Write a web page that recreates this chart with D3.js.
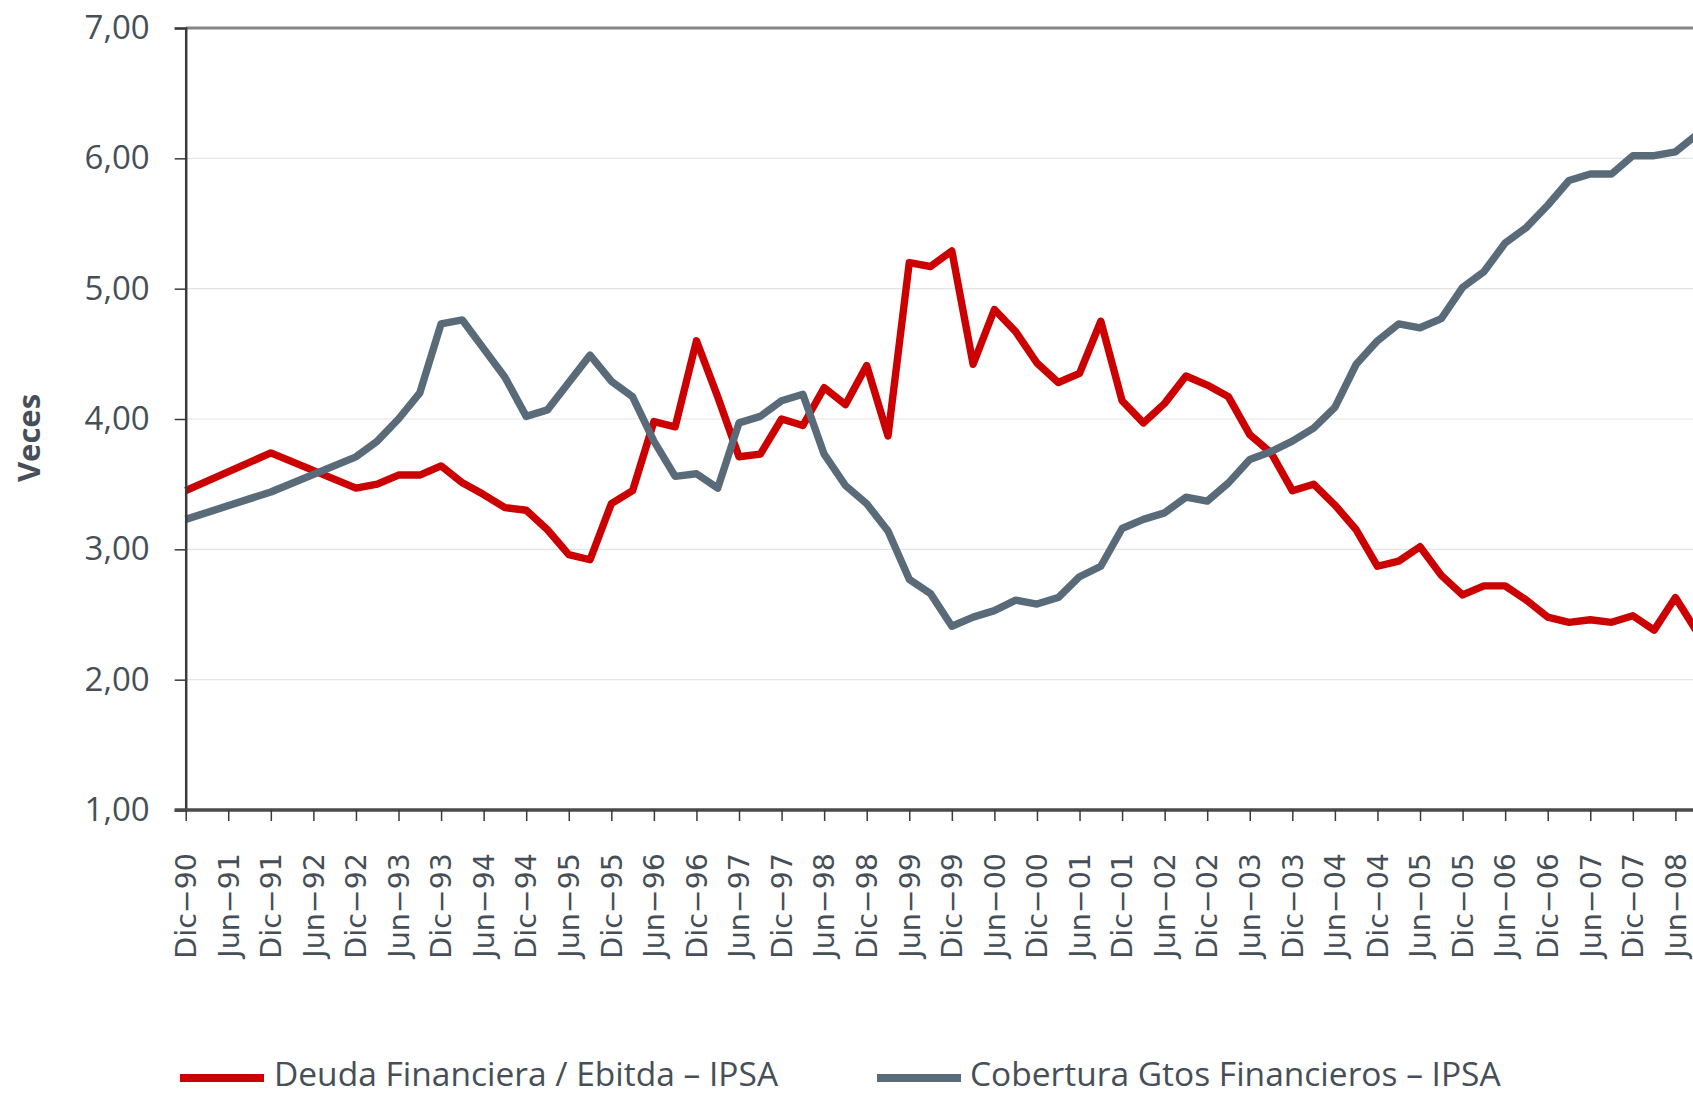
<!DOCTYPE html>
<html>
<head>
<meta charset="utf-8">
<script src="https://cdn.jsdelivr.net/npm/d3@7"></script>
<style>
  html, body { margin: 0; padding: 0; background: #ffffff; overflow: hidden; }
  svg { display: block; }
</style>
</head>
<body>
<svg id="chart" width="1693" height="1095"></svg>
<script>
// ---------- DATA ----------
const periods = [
  "Dic-90", "Dic-91", "Dic-92",
  "Mar-93", "Jun-93", "Sep-93", "Dic-93",
  "Mar-94", "Jun-94", "Sep-94", "Dic-94",
  "Mar-95", "Jun-95", "Sep-95", "Dic-95",
  "Mar-96", "Jun-96", "Sep-96", "Dic-96",
  "Mar-97", "Jun-97", "Sep-97", "Dic-97",
  "Mar-98", "Jun-98", "Sep-98", "Dic-98",
  "Mar-99", "Jun-99", "Sep-99", "Dic-99",
  "Mar-00", "Jun-00", "Sep-00", "Dic-00",
  "Mar-01", "Jun-01", "Sep-01", "Dic-01",
  "Mar-02", "Jun-02", "Sep-02", "Dic-02",
  "Mar-03", "Jun-03", "Sep-03", "Dic-03",
  "Mar-04", "Jun-04", "Sep-04", "Dic-04",
  "Mar-05", "Jun-05", "Sep-05", "Dic-05",
  "Mar-06", "Jun-06", "Sep-06", "Dic-06",
  "Mar-07", "Jun-07", "Sep-07", "Dic-07",
  "Mar-08", "Jun-08", "Sep-08"
];

const deudaEbitda = [
  3.45, 3.74, 3.47,
  3.50, 3.57, 3.57, 3.64,
  3.51, 3.42, 3.32, 3.30,
  3.15, 2.96, 2.92, 3.35,
  3.45, 3.98, 3.94, 4.60,
  4.17, 3.71, 3.73, 4.00,
  3.95, 4.24, 4.11, 4.41,
  3.87, 5.20, 5.17, 5.29,
  4.42, 4.84, 4.67, 4.43,
  4.28, 4.35, 4.75, 4.14,
  3.97, 4.12, 4.33, 4.26,
  4.17, 3.88, 3.74, 3.45,
  3.50, 3.34, 3.15, 2.87,
  2.91, 3.02, 2.80, 2.65,
  2.72, 2.72, 2.61, 2.48,
  2.44, 2.46, 2.44, 2.49,
  2.38, 2.63, 2.37
];

const coberturaGtos = [
  3.23, 3.44, 3.71,
  3.83, 4.00, 4.20, 4.73,
  4.76, 4.54, 4.32, 4.02,
  4.07, 4.28, 4.49, 4.29,
  4.17, 3.83, 3.56, 3.58,
  3.47, 3.97, 4.02, 4.14,
  4.19, 3.73, 3.49, 3.35,
  3.14, 2.77, 2.66, 2.41,
  2.48, 2.53, 2.61, 2.58,
  2.63, 2.79, 2.87, 3.16,
  3.23, 3.28, 3.40, 3.37,
  3.51, 3.69, 3.75, 3.83,
  3.93, 4.09, 4.42, 4.60,
  4.73, 4.70, 4.77, 5.01,
  5.13, 5.35, 5.47, 5.64,
  5.83, 5.88, 5.88, 6.02,
  6.02, 6.05, 6.18
];

const xTickLabels = [
  "Dic-90", "Jun-91", "Dic-91", "Jun-92", "Dic-92", "Jun-93", "Dic-93",
  "Jun-94", "Dic-94", "Jun-95", "Dic-95", "Jun-96", "Dic-96", "Jun-97",
  "Dic-97", "Jun-98", "Dic-98", "Jun-99", "Dic-99", "Jun-00", "Dic-00",
  "Jun-01", "Dic-01", "Jun-02", "Dic-02", "Jun-03", "Dic-03", "Jun-04",
  "Dic-04", "Jun-05", "Dic-05", "Jun-06", "Dic-06", "Jun-07", "Dic-07",
  "Jun-08"
];

const yTickValues = [1, 2, 3, 4, 5, 6, 7];

const seriesNames = ["Deuda Financiera / Ebitda – IPSA", "Cobertura Gtos Financieros – IPSA"];
const seriesColors = ["#cc0000", "#596b78"];
const yAxisTitle = "Veces";

// ---------- HELPERS ----------
const monthNum = { "Mar": 3, "Jun": 6, "Sep": 9, "Dic": 12 };
function monthIndex(label) {
  const [m, yy] = label.split("-");
  const y2 = +yy;
  const year = y2 >= 50 ? 1900 + y2 : 2000 + y2;
  return year * 12 + monthNum[m];
}

// ---------- LAYOUT ----------
const svg = d3.select("#chart");
const W = 1693, H = 1095;
const plotLeft = 185.7, plotTop = 28, plotBottom = 810;
const textColor = "#464f57";
const uiFont = "'Open Sans', Lato, sans-serif";

svg.append("rect").attr("width", W).attr("height", H).attr("fill", "#fff");

const x = d3.scaleLinear()
  .domain([monthIndex("Dic-90"), monthIndex("Jun-08")])
  .range([plotLeft, 1675.4]);

const y = d3.scaleLinear().domain([1, 7]).range([plotBottom, plotTop]);

// gridlines
svg.append("g")
  .selectAll("line")
  .data(yTickValues.filter(v => v > 1 && v < 7))
  .join("line")
  .attr("x1", plotLeft).attr("x2", W + 10)
  .attr("y1", d => y(d)).attr("y2", d => y(d))
  .attr("stroke", "#e4e4e4").attr("stroke-width", 1.2);

// top frame line
svg.append("line")
  .attr("x1", plotLeft).attr("x2", W + 10)
  .attr("y1", y(7)).attr("y2", y(7))
  .attr("stroke", "#858585").attr("stroke-width", 3);

// lines
const seriesData = [deudaEbitda, coberturaGtos];
const lineGen = d3.line()
  .x((d, i) => x(monthIndex(periods[i])))
  .y(d => y(d));

seriesData.forEach((vals, si) => {
  svg.append("path")
    .datum(vals)
    .attr("d", lineGen)
    .attr("fill", "none")
    .attr("stroke", seriesColors[si])
    .attr("stroke-width", 7.4)
    .attr("stroke-linejoin", "round")
    .attr("stroke-linecap", "butt");
});

// y axis
const yAxis = d3.axisLeft(y)
  .tickValues(yTickValues)
  .tickSize(11)
  .tickPadding(25)
  .tickFormat(d => d.toFixed(2).replace(".", ","));

const gy = svg.append("g")
  .attr("transform", `translate(${plotLeft},0)`)
  .call(yAxis);
gy.select(".domain").attr("stroke", "#3a3a3a").attr("stroke-width", 2.5);
gy.selectAll(".tick line").attr("stroke", "#3a3a3a").attr("stroke-width", 1.5);
gy.selectAll(".tick text")
  .attr("fill", textColor)
  .style("font-family", uiFont)
  .style("font-size", "33px");

// x axis
const xTickVals = xTickLabels.map(monthIndex);
const xAxis = d3.axisBottom(x)
  .tickValues(xTickVals)
  .tickSize(11)
  .tickFormat(() => "");
const gx = svg.append("g")
  .attr("transform", `translate(0,${plotBottom})`)
  .call(xAxis);
gx.select(".domain").attr("stroke", "#4a4a4a").attr("stroke-width", 3.5)
  .attr("d", `M${plotLeft - 11},0H${W + 10}`);
gx.selectAll(".tick line").attr("stroke", "#3a3a3a").attr("stroke-width", 1.5);

svg.append("g")
  .selectAll("text")
  .data(xTickLabels)
  .join("text")
  .attr("transform", d => `translate(${x(monthIndex(d))},${plotBottom + 43}) rotate(-90)`)
  .attr("text-anchor", "end")
  .attr("dy", "0.36em")
  .attr("fill", textColor)
  .style("font-family", "'DejaVu Sans', sans-serif")
  .style("font-size", "28.5px")
  .text(d => d.replace("-", "\u2212"));

// y axis title
svg.append("text")
  .attr("transform", "translate(40,438) rotate(-90)")
  .attr("text-anchor", "middle")
  .attr("fill", textColor)
  .style("font-family", uiFont)
  .style("font-weight", "bold")
  .style("font-size", "31px")
  .text(yAxisTitle);

// legend
const legendItems = [
  { x1: 180, x2: 264, tx: 274 },
  { x1: 877, x2: 961, tx: 970 }
];
const legY = 1078;
const lg = svg.append("g");
legendItems.forEach((it, i) => {
  lg.append("line")
    .attr("x1", it.x1).attr("x2", it.x2)
    .attr("y1", legY).attr("y2", legY)
    .attr("stroke", seriesColors[i]).attr("stroke-width", 8);
  lg.append("text")
    .attr("x", it.tx).attr("y", legY + 8)
    .attr("fill", textColor)
    .style("font-family", uiFont)
    .style("font-size", "33.5px")
    .text(seriesNames[i]);
});
</script>
</body>
</html>
